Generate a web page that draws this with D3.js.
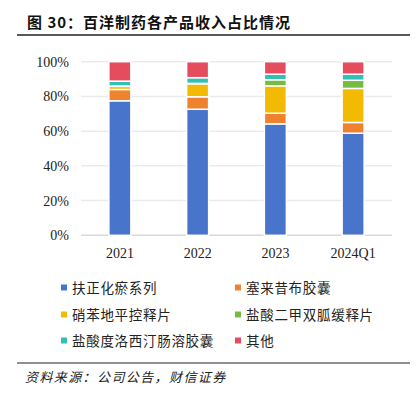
<!DOCTYPE html>
<html><head><meta charset="utf-8">
<script src="https://cdn.jsdelivr.net/npm/d3@7"></script>
<style>body{margin:0;background:#fff}svg{display:block}</style>
</head><body>
<script>
const categories = ["2021","2022","2023","2024Q1"];
const seriesNames = ["扶正化瘀系列","塞来昔布胶囊","硝苯地平控释片","盐酸二甲双胍缓释片","盐酸度洛西汀肠溶胶囊","其他"];
const fuzheng   = [77.5, 72.6, 64.2, 58.8];
const sailai    = [6.5, 7.2, 6.1, 6.2];
const xiaoben   = [1.8, 7.5, 15.8, 19.6];
const erjia     = [0.2, 0.2, 3.5, 4.7];
const duluoxi   = [2.8, 3.3, 3.2, 3.5];
const qita      = [11.2, 9.2, 7.2, 7.2];
const yTicks = [0, 20, 40, 60, 80, 100];
const colors = ["#4874CB","#EE822F","#F2BA02","#75BD42","#30C0B4","#E54C5E"];

const seriesValues = [fuzheng, sailai, xiaoben, erjia, duluoxi, qita];
const W = 416, H = 397;
const svg = d3.select("body").append("svg").attr("width", W).attr("height", H);

// title
svg.append("text").attr("x", 27).attr("y", 28)
  .attr("font-family", "'Noto Sans CJK SC', sans-serif").attr("font-weight", "bold")
  .attr("font-size", 15).attr("letter-spacing", 1).attr("fill", "#111")
  .text("图 30：百洋制药各产品收入占比情况");
svg.append("line").attr("x1", 17).attr("x2", 410).attr("y1", 35).attr("y2", 35)
  .attr("stroke", "#222").attr("stroke-width", 1.5);

const x = d3.scaleBand().domain(categories).range([81, 392]).paddingInner(0.717).paddingOuter(0.3585);
const y = d3.scaleLinear().domain([0, 100]).range([235.3, 61.7]);

// gridlines
svg.append("g").selectAll("line").data(yTicks).join("line")
  .attr("x1", 81).attr("x2", 392)
  .attr("y1", d => y(d)).attr("y2", d => y(d))
  .attr("stroke", d => d === 0 ? "#d9d9d9" : "#ebebeb").attr("stroke-width", 1.5);

// y axis labels
const yAxis = d3.axisLeft(y).tickValues(yTicks).tickFormat(d => d + "%").tickSize(0).tickPadding(0);
const gy = svg.append("g").attr("transform", "translate(69,0)").call(yAxis);
gy.select(".domain").remove();
gy.selectAll("text").attr("font-family", "'Liberation Serif', 'Times New Roman', serif")
  .attr("font-size", 14).attr("fill", "#222");

// x axis labels
const xAxis = d3.axisBottom(x).tickSize(0).tickPadding(0);
const gx = svg.append("g").attr("transform", "translate(0,248)").call(xAxis);
gx.select(".domain").remove();
gx.selectAll("text").attr("font-family", "'Liberation Serif', 'Times New Roman', serif")
  .attr("font-size", 14).attr("fill", "#222");

// stacked data
const table = categories.map((c, i) => {
  const o = {cat: c};
  seriesNames.forEach((s, j) => o[s] = seriesValues[j][i]);
  return o;
});
const stacked = d3.stack().keys(seriesNames)(table);

svg.append("g").selectAll("g").data(stacked).join("g")
  .attr("fill", (d, i) => colors[i])
  .selectAll("rect").data(d => d).join("rect")
  .attr("x", d => x(d.data.cat))
  .attr("width", x.bandwidth())
  .attr("y", d => y(d[1]))
  .attr("height", d => Math.max(0, y(d[0]) - y(d[1])))
  .attr("stroke", "#fff").attr("stroke-width", 1.5);

// legend
const legX = [61, 235];
const legY = [288, 315, 341];
const leg = svg.append("g");
seriesNames.forEach((s, i) => {
  const lx = legX[i % 2], ly = legY[Math.floor(i / 2)];
  leg.append("rect").attr("x", lx).attr("y", ly - 3.5).attr("width", 6).attr("height", 6).attr("fill", colors[i]);
  leg.append("text").attr("x", lx + 11).attr("y", ly + 5)
    .attr("font-family", "'Noto Sans CJK SC', sans-serif").attr("font-size", 13.5)
    .attr("letter-spacing", 0.7).attr("fill", "#222").text(s);
});

// footer
svg.append("line").attr("x1", 17).attr("x2", 410).attr("y1", 363).attr("y2", 363)
  .attr("stroke", "#222").attr("stroke-width", 1.2);
svg.append("text").attr("x", 25).attr("y", 382)
  .attr("font-family", "'Noto Sans CJK SC', sans-serif").attr("font-size", 13)
  .attr("font-style", "italic").attr("letter-spacing", 1.4).attr("fill", "#222")
  .text("资料来源：公司公告，财信证券");
</script>
</body></html>
